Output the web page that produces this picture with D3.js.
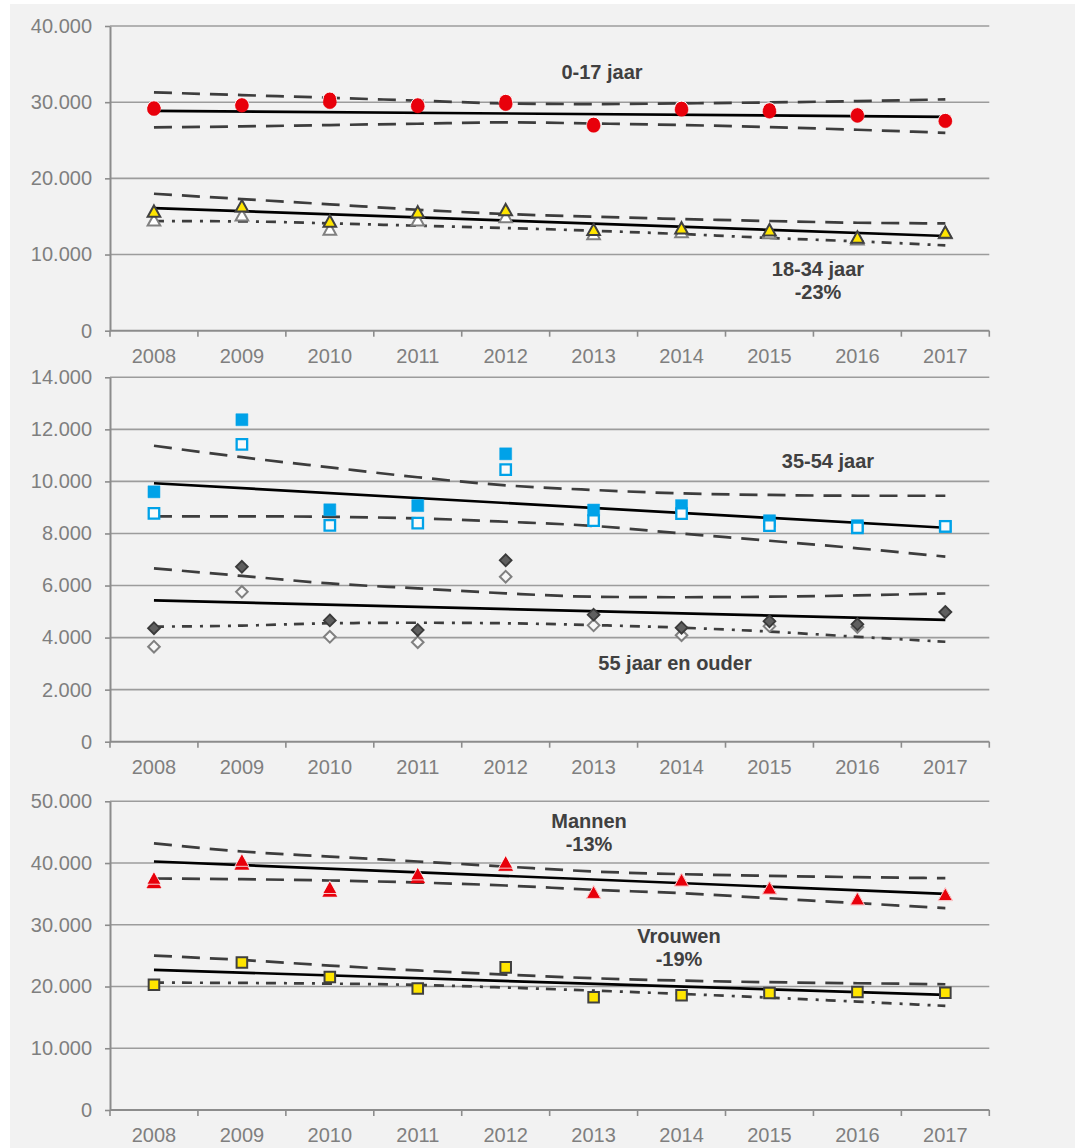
<!DOCTYPE html>
<html>
<head>
<meta charset="utf-8">
<script src="https://cdn.jsdelivr.net/npm/d3@7"></script>
<style>
  body { margin: 0; background: #fff; }
  text { font-family: "Liberation Sans", Arial, sans-serif; }
</style>
</head>
<body>
<div id="chart"></div>
<script>
// trends per leeftijdsgroep en geslacht, 2008-2017

const years = [2008, 2009, 2010, 2011, 2012, 2013, 2014, 2015, 2016, 2017];
const trendYears = [2008, 2017];

// panel 1: 0-17 en 18-34 jaar
const ticks1 = [0, 10000, 20000, 30000, 40000];
const age017a = [29300, 29700, 30450, 29700, 30150, 27150, 29250, 29050, 28400, 27650];
const age017b = [29100, 29550, 30000, 29450, 29750, 26900, 29000, 28750, 28200, 27500];
const age017Trend = [28870, 28080];
const age017Upper = [31280, 30930, 30580, 30200, 29840, 29750, 29840, 29970, 30140, 30370];
const age017Lower = [26690, 26820, 27000, 27170, 27350, 27200, 27000, 26730, 26380, 25980];

const age1834a = [15700, 16400, 14400, 15600, 15900, 13300, 13500, 13250, 12300, 12950];
const age1834b = [14550, 15200, 13350, 14550, 15000, 12750, 13000, 12900, 12050, 12900];
const age1834Trend = [16100, 12430];
const age1834Upper = [17980, 17280, 16590, 15880, 15320, 14960, 14660, 14400, 14170, 14090];
const age1834Lower = [14400, 14350, 14090, 13780, 13480, 13120, 12690, 12170, 11730, 11200];

// panel 2: 35-54 en 55+
const ticks2 = [0, 2000, 4000, 6000, 8000, 10000, 12000, 14000];
const age3554a = [9600, 12370, 8910, 9070, 11060, 8900, 9070, 8490, 8300, 8270];
const age3554b = [8770, 11420, 8310, 8400, 10450, 8490, 8760, 8300, 8220, 8270];
const age3554Trend = [9930, 8220];
const age3554Upper = [11370, 10930, 10540, 10160, 9850, 9670, 9540, 9480, 9450, 9450];
const age3554Lower = [8660, 8660, 8640, 8580, 8450, 8290, 8000, 7720, 7430, 7110];

const age55a = [4360, 6720, 4660, 4290, 6970, 4880, 4380, 4630, 4510, 4980];
const age55b = [3650, 5760, 4030, 3820, 6340, 4470, 4090, 4440, 4410, 4980];
const age55Trend = [5430, 4680];
const age55Upper = [6660, 6370, 6080, 5890, 5700, 5570, 5550, 5570, 5620, 5700];
const age55Lower = [4420, 4460, 4550, 4570, 4550, 4480, 4380, 4230, 4030, 3840];

// panel 3: mannen en vrouwen
const ticks3 = [0, 10000, 20000, 30000, 40000, 50000];
const menA = [37600, 40500, 36100, 38300, 40200, 35300, 37300, 36000, 34250, 34950];
const menB = [37000, 40000, 35600, 37800, 39800, 35300, 37300, 36000, 34250, 34950];
const menTrend = [40250, 35000];
const menUpper = [43200, 41870, 41050, 40250, 39430, 38630, 38200, 37930, 37710, 37550];
const menLower = [37500, 37380, 37170, 36840, 36360, 35660, 35120, 34300, 33500, 32700];

const women = [20300, 23900, 21550, 19670, 23100, 18260, 18580, 18960, 19100, 19000];
const womenTrend = [22700, 18640];
const womenUpper = [25000, 24300, 23400, 22600, 21930, 21340, 20960, 20700, 20530, 20370];
const womenLower = [20630, 20580, 20470, 20260, 19830, 19340, 18800, 18200, 17550, 16860];

const W = 1075, H = 1148;
const svg = d3.select("#chart").append("svg").attr("width", W).attr("height", H);

svg.append("rect")
    .attr("x", 10).attr("y", 4)
    .attr("width", W - 10).attr("height", H - 4)
    .attr("fill", "#f2f2f2");

const nl = d3.formatLocale({ decimal: ",", thousands: ".", grouping: [3], currency: ["€", ""] });
const fmt = nl.format(",");

const x = d3.scaleBand().domain(years).range([110, 989.3]).padding(0);
const cx = d => x(d) + x.bandwidth() / 2;

// marker shapes, centred on their bounding box like the spreadsheet markers
const triangle = {
    draw(ctx, size) {
        const w = Math.sqrt(size), h = w * 0.9;
        ctx.moveTo(0, -h / 2);
        ctx.lineTo(w / 2, h / 2);
        ctx.lineTo(-w / 2, h / 2);
        ctx.closePath();
    }
};
const diamond = {
    draw(ctx, size) {
        const r = Math.sqrt(size) / 2;
        ctx.moveTo(0, -r);
        ctx.lineTo(r, 0);
        ctx.lineTo(0, r);
        ctx.lineTo(-r, 0);
        ctx.closePath();
    }
};
const square = {
    draw(ctx, size) {
        const r = Math.sqrt(size) / 2;
        ctx.rect(-r, -r, 2 * r, 2 * r);
    }
};
const circle = {
    draw(ctx, size) {
        const r = Math.sqrt(size) / 2;
        ctx.moveTo(r, 0);
        ctx.arc(0, 0, r, 0, 2 * Math.PI);
    }
};

function drawPanel(p) {
    const y = d3.scaleLinear().domain([0, p.ticks[p.ticks.length - 1]]).range([p.bottom, p.top]);
    const g = svg.append("g");

    g.append("g").selectAll("line")
        .data(p.ticks.filter(t => t > 0))
        .join("line")
        .attr("x1", 110).attr("x2", 989.3)
        .attr("y1", d => y(d)).attr("y2", d => y(d))
        .attr("stroke", "#9c9c9c")
        .attr("stroke-width", 1.6);

    const yAxis = g.append("g")
        .attr("transform", "translate(110,0)")
        .call(d3.axisLeft(y).tickValues(p.ticks).tickFormat(fmt)
            .tickSize(5).tickSizeOuter(0).tickPadding(13));
    yAxis.select(".domain").attr("stroke", "#8c8c8c").attr("stroke-width", 2);
    yAxis.selectAll(".tick line").attr("stroke", "#8c8c8c").attr("stroke-width", 1.6);
    yAxis.selectAll("text").attr("fill", "#7f7f7f").style("font-size", "20px");

    const xAxis = g.append("g")
        .attr("transform", `translate(0,${p.bottom})`)
        .call(d3.axisBottom(x).tickSize(0).tickPadding(18));
    xAxis.select(".domain").remove();
    xAxis.selectAll("text").attr("fill", "#7f7f7f").style("font-size", "20px");

    g.append("line")
        .attr("x1", 110).attr("x2", 989.3)
        .attr("y1", p.bottom).attr("y2", p.bottom)
        .attr("stroke", "#8c8c8c").attr("stroke-width", 2);

    g.append("g").selectAll("line")
        .data(years.concat(["end"]))
        .join("line")
        .attr("x1", d => d === "end" ? 989.3 : x(d))
        .attr("x2", d => d === "end" ? 989.3 : x(d))
        .attr("y1", p.bottom).attr("y2", p.bottom + 6)
        .attr("stroke", "#8c8c8c").attr("stroke-width", 1.6);

    return { g, y };
}

function band(panel, values, dash) {
    const line = d3.line()
        .x((d, i) => cx(years[i]))
        .y(d => panel.y(d))
        .curve(d3.curveMonotoneX);
    panel.g.append("path")
        .attr("d", line(values))
        .attr("fill", "none")
        .attr("stroke", "#3d3d3d")
        .attr("stroke-width", 2.7)
        .attr("stroke-dasharray", dash);
}

function trend(panel, values) {
    const line = d3.line()
        .x((d, i) => cx(trendYears[i]))
        .y(d => panel.y(d));
    panel.g.append("path")
        .attr("d", line(values))
        .attr("fill", "none")
        .attr("stroke", "#000")
        .attr("stroke-width", 2.7);
}

function markers(panel, values, type, size, fill, stroke, sw) {
    panel.g.append("g").selectAll("path")
        .data(values)
        .join("path")
        .attr("transform", (d, i) => `translate(${cx(years[i])},${panel.y(d)})`)
        .attr("d", d3.symbol().type(type).size(size))
        .attr("fill", fill)
        .attr("stroke", stroke)
        .attr("stroke-width", sw);
}

function label(lines, xPos, yPos) {
    const t = svg.append("text")
        .attr("text-anchor", "middle")
        .attr("fill", "#404040")
        .style("font-size", "20px")
        .style("font-weight", "bold");
    lines.forEach((s, i) => {
        t.append("tspan").attr("x", xPos).attr("y", yPos + i * 23).text(s);
    });
}

const DASH = "18,10";
const DASHDOT = "10,8,3,7";
const RED = "#e8000b", BLUE = "#00a2e8", YELLOW = "#ffe500";

// panel 1
const p1 = drawPanel({ ticks: ticks1, top: 26, bottom: 330.7 });
band(p1, age017Upper, DASH);
band(p1, age017Lower, DASH);
trend(p1, age017Trend);
band(p1, age1834Upper, DASH);
band(p1, age1834Lower, DASHDOT);
trend(p1, age1834Trend);
markers(p1, age017a, circle, 182, RED, "#fff", 1);
markers(p1, age017b, circle, 172, RED, RED, 0.5);
markers(p1, age1834b, triangle, 160, "#fff", "#808080", 2);
markers(p1, age1834a, triangle, 160, YELLOW, "#404040", 2);

// panel 2
const p2 = drawPanel({ ticks: ticks2, top: 377.3, bottom: 741.7 });
band(p2, age3554Upper, DASH);
band(p2, age3554Lower, DASH);
trend(p2, age3554Trend);
band(p2, age55Upper, DASH);
band(p2, age55Lower, DASHDOT);
trend(p2, age55Trend);
markers(p2, age3554a, square, 144, BLUE, BLUE, 0.5);
markers(p2, age3554b, square, 110, "#fafafa", BLUE, 2.3);
markers(p2, age55b, diamond, 135, "#f7f7f7", "#808080", 2);
markers(p2, age55a, diamond, 140, "#5f5f5f", "#3a3a3a", 1.8);

// panel 3
const p3 = drawPanel({ ticks: ticks3, top: 801.3, bottom: 1110 });
band(p3, menUpper, DASH);
band(p3, menLower, DASH);
trend(p3, menTrend);
band(p3, womenUpper, DASH);
band(p3, womenLower, DASHDOT);
trend(p3, womenTrend);
markers(p3, menB, triangle, 200, RED, RED, 0.5);
markers(p3, menA, triangle, 200, RED, "#fff", 0.8);
markers(p3, women, square, 112, YELLOW, "#404040", 2);

// annotaties
label(["0-17 jaar"], 602, 79);
label(["18-34 jaar", "-23%"], 818, 276);
label(["35-54 jaar"], 828, 468);
label(["55 jaar en ouder"], 675, 670);
label(["Mannen", "-13%"], 589, 828);
label(["Vrouwen", "-19%"], 679, 943);
</script>
</body>
</html>
